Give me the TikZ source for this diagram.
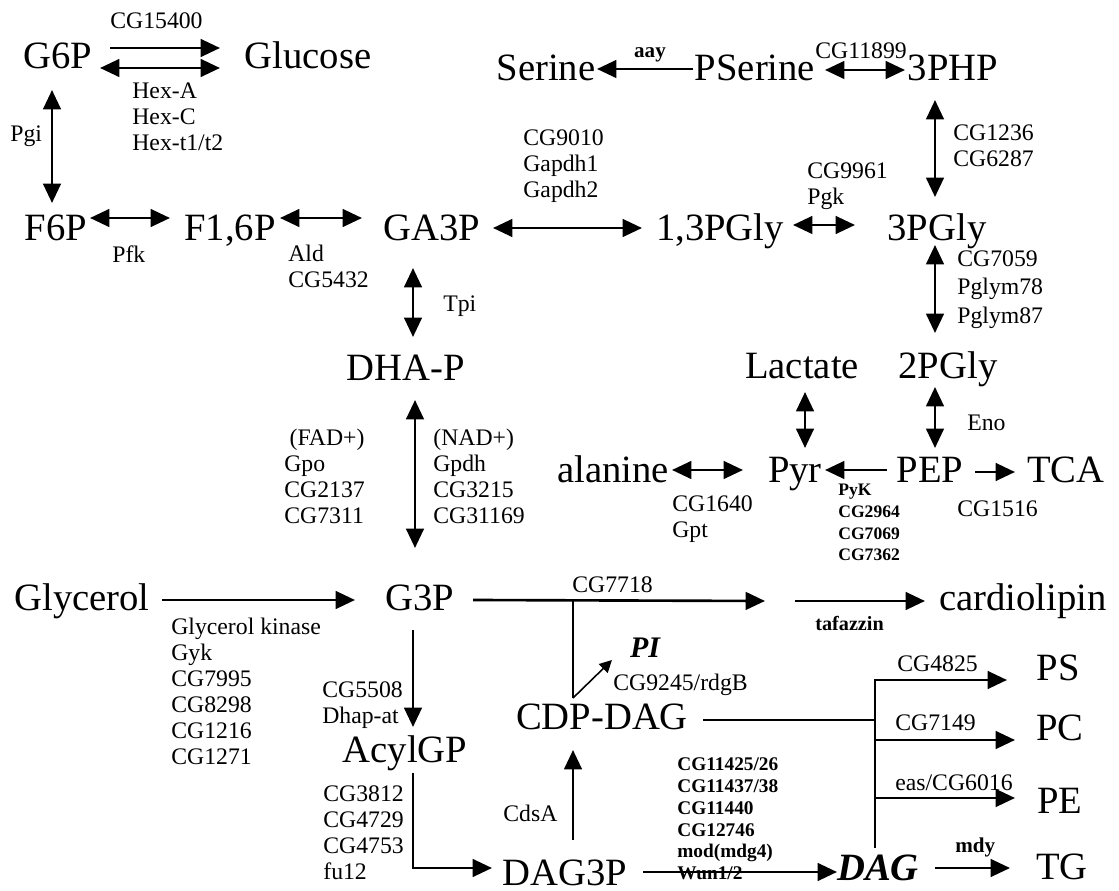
\documentclass[tikz,border=0pt]{standalone}
\usepackage{fontspec}
\setmainfont{Liberation Serif}
\usetikzlibrary{arrows.meta,calc}

\begin{document}
\begin{tikzpicture}[x=0.02cm, y=-0.02cm,
    metab/.style={font=\fontsize{22}{24}\selectfont, text height=15pt, text depth=0pt, inner sep=0pt},
    enz/.style={font=\fontsize{13.5}{14.8}\selectfont, align=left, anchor=north west, inner sep=0pt},
    enzb/.style={enz, font=\fontsize{11}{12.5}\selectfont\bfseries},
    oneway/.style={line width=1.5pt, -{Triangle[length=11pt,width=10pt]}},
    twoway/.style={line width=1.5pt, {Triangle[length=11pt,width=10pt]}-{Triangle[length=11pt,width=10pt]}},
    link/.style={line width=1.5pt}]
  \useasboundingbox (0,0) rectangle (1119,891);

  \node[metab] (G6P) at (58,55) {G6P};
  \node[metab] (Glucose) at (308,55) {Glucose};
  \node[metab] (Serine) at (546,67) {Serine};
  \node[metab] (PSerine) at (755,67) {PSerine};
  \node[metab] (PHP3) at (953,67) {3PHP};
  \node[metab] (F6P) at (56,227) {F6P};
  \node[metab] (F16P) at (230,227) {F1,6P};
  \node[metab] (GA3P) at (432,227) {GA3P};
  \node[metab] (PGly13) at (720,227) {1,3PGly};
  \node[metab] (PGly3) at (937,227) {3PGly};
  \node[metab] (DHAP) at (406,367) {DHA-P};
  \node[metab] (Lactate) at (802,365) {Lactate};
  \node[metab] (PGly2) at (948,365) {2PGly};
  \node[metab] (alanine) at (613,469) {alanine};
  \node[metab] (Pyr) at (795,469) {Pyr};
  \node[metab] (PEP) at (930,469) {PEP};
  \node[metab] (TCA) at (1066,469) {TCA};
  \node[metab] (Glycerol) at (82,597) {Glycerol};
  \node[metab] (G3P) at (420,597) {G3P};
  \node[metab] (cardio) at (1023,597) {cardiolipin};
  \node[metab] (CDPDAG) at (602,716) {CDP-DAG};
  \node[metab] (AcylGP) at (405,749) {AcylGP};
  \node[metab] (DAG3P) at (565,872) {DAG3P};
  \node[metab, font=\fontsize{22}{24}\selectfont\bfseries\itshape] (DAG) at (878,867) {DAG};
  \node[metab] (PS) at (1058,667) {PS};
  \node[metab] (PC) at (1060,727) {PC};
  \node[metab] (PE) at (1060,800) {PE};
  \node[metab] (TG) at (1062,866) {TG};
  \node[metab, font=\fontsize{17}{19}\selectfont\bfseries\itshape, text height=11pt] (PI) at (645,648) {PI};
  \coordinate (pgp) at (780,601);
  \coordinate (trunk) at ($(DAG)+(-3,-19)$);

  \draw[oneway] ($(G6P)+(52,-7)$) -- ($(Glucose)+(-88,-7)$);
  \draw[twoway] ($(G6P)+(42,13)$) -- ($(Glucose)+(-88,13)$);
  \draw[twoway] ($(G6P)+(-6,35)$) -- ($(F6P)+(-4,-24)$);
  \draw[twoway] ($(F6P)+(34,-9)$) -- ($(F16P)+(-60,-9)$);
  \draw[twoway] ($(F16P)+(50,-9)$) -- ($(GA3P)+(-70,-9)$);
  \draw[twoway] ($(GA3P)+(61,1)$) -- ($(PGly13)+(-78,1)$);
  \draw[twoway] ($(PGly13)+(73,-2)$) -- ($(PGly3)+(-82,-2)$);
  \draw[oneway] ($(PSerine)+(-62,2)$) -- ($(Serine)+(51,2)$);
  \draw[twoway] ($(PSerine)+(70,3)$) -- ($(PHP3)+(-48,3)$);
  \draw[twoway] ($(PHP3)+(-18,33)$) -- ($(PGly3)+(-2,-30)$);
  \draw[twoway] ($(PGly3)+(-2,18)$) -- ($(PGly2)+(-13,-32)$);
  \draw[twoway] ($(GA3P)+(-19,41)$) -- ($(DHAP)+(7,-30)$);
  \draw[twoway] ($(DHAP)+(9,33)$) -- ($(G3P)+(-5,-49)$);
  \draw[twoway] ($(Lactate)+(3,27)$) -- ($(Pyr)+(10,-21)$);
  \draw[twoway] ($(PGly2)+(-13,22)$) -- ($(PEP)+(5,-21)$);
  \draw[twoway] ($(alanine)+(59,1)$) -- ($(Pyr)+(-52,1)$);
  \draw[oneway] ($(PEP)+(-43,1)$) -- ($(Pyr)+(30,1)$);
  \draw[oneway] ($(PEP)+(45,3)$) -- ($(TCA)+(-51,3)$);
  \draw[oneway] ($(Glycerol)+(80,3)$) -- ($(G3P)+(-65,3)$);
  \draw[oneway] ($(G3P)+(53,3)$) -- ($(pgp)+(-15,0)$);
  \draw[oneway] ($(pgp)+(15,0)$) -- ($(cardio)+(-98,4)$);
  \draw[link] ($(CDPDAG)+(-29,-18)$) -- ($(G3P)+(153,3)$);
  \draw[line width=0.9pt, -{Triangle[length=7pt,width=7pt]}] ($(CDPDAG)+(-29,-18)$) -- ($(PI)+(-33,12)$);
  \draw[oneway] ($(DAG3P)+(8,-32)$) -- ($(CDPDAG)+(-29,34)$);
  \draw[oneway] ($(G3P)+(-7,33)$) -- ($(AcylGP)+(8,-22)$);
  \draw[oneway] ($(AcylGP)+(8,24)$) |- ($(DAG3P)+(-73,-4)$);
  \draw[oneway] ($(DAG3P)+(78,0)$) -- ($(DAG)+(-41,5)$);
  \draw[oneway] (trunk) |- ($(PS)+(-51,13)$);
  \draw[oneway] ($(DAG)+(-3,-127)$) -- ($(PC)+(-45,13)$);
  \draw[oneway] ($(DAG)+(-3,-69)$) -- ($(PE)+(-45,-2)$);
  \draw[link] ($(CDPDAG)+(101,4)$) -- ($(DAG)+(-3,-147)$);
  \draw[oneway] ($(DAG)+(57,1)$) -- ($(TG)+(-52,2)$);

  \node[enz] (l15400) at (110,12) {CG15400};
  \node[enz] (lhex) at (132,82) {Hex-A\\Hex-C\\Hex-t1/t2};
  \node[enz] (lpgi) at (10,125) {Pgi};
  \node[enz] (lpfk) at (112,245) {Pfk};
  \node[enz] (lald) at (288,245) {Ald\\CG5432};
  \node[enz] (ltpi) at (443,295) {Tpi};
  \node[enz] (lgapdh) at (523,129) {CG9010\\Gapdh1\\Gapdh2};
  \node[enzb, font=\fontsize{12}{13}\selectfont\bfseries, anchor=base] (laay) at (650,58) {aay};
  \node[enz] (l11899) at (815,42) {CG11899};
  \node[enz] (l1236) at (953,124) {CG1236\\CG6287};
  \node[enz] (lpgk) at (807,162) {CG9961\\Pgk};
  \node[enz] (lpglym) at (957,250) {CG7059\\[1.4pt]Pglym78\\[1.4pt]Pglym87};
  \node[enz] (leno) at (967,415) {Eno};
  \node[enz] (lfad) at (284,429) {\hspace{3pt}(FAD+)\\Gpo\\CG2137\\CG7311};
  \node[enz] (lnad) at (433,429) {(NAD+)\\Gpdh\\CG3215\\CG31169};
  \node[enz] (lgpt) at (672,495) {CG1640\\Gpt};
  \node[enzb, font=\fontsize{10}{12.3}\selectfont\bfseries] (lpyk) at (838,484) {PyK\\CG2964\\CG7069\\CG7362};
  \node[enz] (l1516) at (957,500) {CG1516};
  \node[enz] (lgyk) at (171,618) {Glycerol kinase\\Gyk\\CG7995\\CG8298\\CG1216\\CG1271};
  \node[enz] (l5508) at (322,681) {CG5508\\Dhap-at};
  \node[enz] (l3812) at (323,785) {CG3812\\CG4729\\CG4753\\fu12};
  \node[enz] (l7718) at (572,576) {CG7718};
  \node[enzb, font=\fontsize{11.5}{13}\selectfont\bfseries, anchor=base west] (ltaz) at (815,630) {tafazzin};
  \node[enz] (l9245) at (613,674) {CG9245/rdgB};
  \node[enz] (lcds) at (503,805) {CdsA};
  \node[enzb] (l11425) at (677,757) {CG11425/26\\CG11437/38\\CG11440\\CG12746\\mod(mdg4)\\Wun1/2};
  \node[enz] (l4825) at (897,655) {CG4825};
  \node[enz] (l7149) at (895,714) {CG7149};
  \node[enz] (l6016) at (895,774) {eas/CG6016};
  \node[enzb, font=\fontsize{12}{13}\selectfont\bfseries, anchor=base west] (lmdy) at (955,852) {mdy};
\end{tikzpicture}
\end{document}
